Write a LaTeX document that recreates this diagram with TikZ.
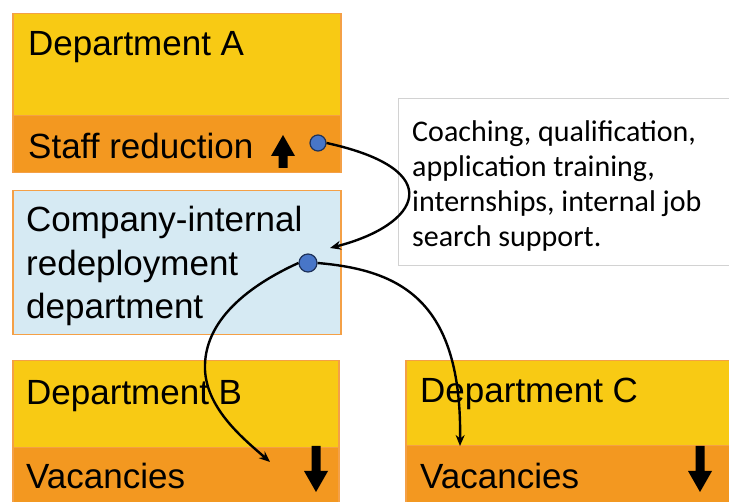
\documentclass[tikz,border=0pt]{standalone}
\usepackage{fontspec}
\setmainfont{Liberation Sans}
\newfontfamily\notefont{Carlito}
\usetikzlibrary{arrows.meta}
\definecolor{deptyellow}{RGB}{248,202,20}
\definecolor{deptorange}{RGB}{243,152,32}
\definecolor{deptedge}{RGB}{244,160,70}
\definecolor{poolblue}{RGB}{214,234,243}
\definecolor{dotblue}{RGB}{72,118,200}
\definecolor{dotedge}{RGB}{30,50,90}
\definecolor{noteedge}{RGB}{210,210,210}
\tikzset{
  panel/.style={draw=deptedge, line width=1.5pt, anchor=north west, inner sep=0pt},
  upper/.style={panel, fill=deptyellow},
  lower/.style={panel, fill=deptorange},
  pool/.style={panel, fill=poolblue},
  caption/.style={anchor=base west, inner sep=0pt, font=\fontsize{35}{43.5}\selectfont},
  hub/.style={circle, fill=dotblue, draw=dotedge, line width=1.2pt, inner sep=0pt},
  flow/.style={line width=2.4pt, -{Stealth[length=11pt,width=9pt]}},
  % block arrow: tip at the origin, body of length #1 behind it
  pics/trendarrow/.style={code={
    \fill[black] (0,0) -- (-12,-21) -- (-4.5,-21) -- (-4.5,-#1)
      -- (4.5,-#1) -- (4.5,-21) -- (12,-21) -- cycle;}},
}
\begin{document}
\begin{tikzpicture}[x=1pt,y=-1pt]
\useasboundingbox (0,0) rectangle (729,502);
\fill[white] (0,0) rectangle (729,502);

% Department A
\node[upper, minimum width=328pt, minimum height=102pt] (deptA) at (12,13) {};
\node[lower, minimum width=328pt, minimum height=57pt] (deptAlow) at (12,115) {};
\node[caption] (deptAname) at (28,56) {Department A};
\node[caption] (deptAstaff) at (28,159) {Staff reduction};
\pic[rotate=180] (upA) at (283,135) {trendarrow=33};

% Redeployment department
\node[pool, minimum width=328pt, minimum height=144pt] (pool) at (12,190) {};
\node[caption, align=left, anchor=north west] (poolname) at (26,206)
  {Company-internal\\redeployment\\department};

% Department B
\node[upper, minimum width=326pt, minimum height=88pt] (deptB) at (12,360) {};
\node[lower, minimum width=326pt, minimum height=60pt] (deptBlow) at (12,447) {};
\node[caption] (deptBname) at (26,405) {Department B};
\node[caption] (deptBvac) at (26,489) {Vacancies};
\pic (dnB) at (316,492) {trendarrow=46};

% Department C
\node[upper, minimum width=330pt, minimum height=86pt] (deptC) at (405,360) {};
\node[lower, minimum width=330pt, minimum height=62pt] (deptClow) at (405,445) {};
\node[caption] (deptCname) at (420,403) {Department C};
\node[caption] (deptCvac) at (420,489) {Vacancies};
\pic (dnC) at (700,492) {trendarrow=46};

% Measures note
\node[draw=noteedge, line width=1pt, fill=white, anchor=north west,
      minimum width=340pt, minimum height=167pt, inner sep=0pt] (note) at (398,98) {};
\node[anchor=north west, align=left, inner sep=0pt,
      font=\notefont\fontsize{30}{35}\selectfont] (notetext) at (412,120)
  {Coaching, qualification,\\application training,\\internships, internal job\\search support.};

% Flow of staff
\node[hub, minimum size=16pt] (hubA) at (318,143) {};
\node[hub, minimum size=18pt] (hubP) at (308,263) {};
\coordinate (intoPool) at (330,248);
\coordinate (intoB) at (270,462);
\coordinate (intoC) at (460,446);
\coordinate (bendB) at (205,370);

\draw[flow] (hubA.east) .. controls (450,170) and (420,225) .. (intoPool);
\draw[flow] (hubP.west) .. controls (250,285) and (203,320) .. (bendB)
  .. controls (207,410) and (245,440) .. (intoB);
\draw[flow] (hubP.east) .. controls (400,270) and (462,300) .. (intoC);
\end{tikzpicture}
\end{document}
